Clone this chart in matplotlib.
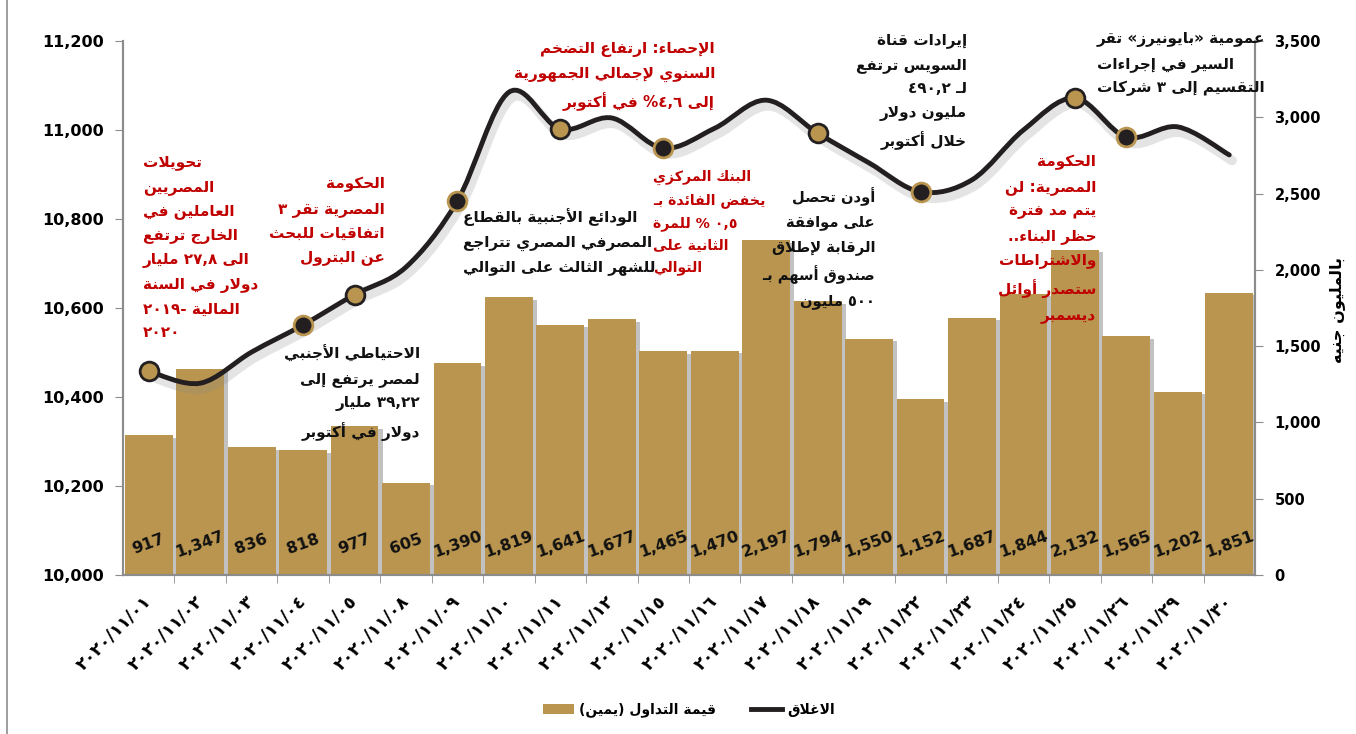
import re
import matplotlib
matplotlib.use("Agg")
import matplotlib.pyplot as plt
import matplotlib.patheffects as pe
from matplotlib.path import Path
from matplotlib.patches import PathPatch, Patch
from matplotlib.lines import Line2D
from matplotlib.ticker import FuncFormatter, MultipleLocator

# ---------------------------------------------------------------------------
# data

dates = ["2020/11/01", "2020/11/02", "2020/11/03", "2020/11/04", "2020/11/05",
         "2020/11/08", "2020/11/09", "2020/11/10", "2020/11/11", "2020/11/12",
         "2020/11/15", "2020/11/16", "2020/11/17", "2020/11/18", "2020/11/19",
         "2020/11/22", "2020/11/23", "2020/11/24", "2020/11/25", "2020/11/26",
         "2020/11/29", "2020/11/30"]

# trading value, million EGP (right axis)
volume = [917, 1347, 836, 818, 977, 605, 1390, 1819, 1641, 1677, 1465,
          1470, 2197, 1794, 1550, 1152, 1687, 1844, 2132, 1565, 1202, 1851]

# index close (left axis)
close = [10458, 10431, 10501, 10562, 10630, 10692, 10841, 11085, 11002, 11027,
         10959, 11004, 11067, 10993, 10926, 10861, 10888, 11000, 11072, 10984,
         11007, 10944]

gold_points = [0, 4, 8, 13, 18]
dark_points = [3, 6, 10, 15, 19]

legend_bar = "قيمة التداول (يمين)"
legend_line = "الاغلاق"
right_label = "بالمليون جنيه"

#//////////////////////////////////////////////////////////////////////////////

# small arabic shaper: presentation forms + right-to-left visual order

arabic_letters = ("\u0621\u0622\u0623\u0624\u0625\u0626\u0627\u0628\u0629\u062A"
                  "\u062B\u062C\u062D\u062E\u062F\u0630\u0631\u0632\u0633\u0634"
                  "\u0635\u0636\u0637\u0638\u0639\u063A\u0641\u0642\u0643\u0644"
                  "\u0645\u0646\u0647\u0648\u0649\u064A")
form_counts = [1, 2, 2, 2, 2, 4, 2, 4, 2, 4, 4, 4, 4, 4, 2, 2, 2, 2, 4, 4,
               4, 4, 4, 4, 4, 4, 4, 4, 4, 4, 4, 4, 4, 2, 2, 4]
FORMS = {}
code = 0xFE80
for ch, n in zip(arabic_letters, form_counts):
    FORMS[ch] = (code, n)
    code += n
LAMALEF = {"\u0622": 0xFEF5, "\u0623": 0xFEF7, "\u0625": 0xFEF9, "\u0627": 0xFEFB}
TATWEEL = "\u0640"
MIRROR = {"(": ")", ")": "(", "«": "»", "»": "«"}


def joins_next(c):
    return c == TATWEEL or (c in FORMS and FORMS[c][1] == 4)


def joins_prev(c):
    return c == TATWEEL or (c in FORMS and FORMS[c][1] > 1)


def shape(s):
    chars = [c for c in s if not ("\u064B" <= c <= "\u0652")]
    out = []
    i = 0
    while i < len(chars):
        c = chars[i]
        prev_j = i > 0 and joins_next(chars[i - 1])
        if c == "\u0644" and i + 1 < len(chars) and chars[i + 1] in LAMALEF:
            out.append(chr(LAMALEF[chars[i + 1]] + (1 if prev_j else 0)))
            i += 2
            continue
        if c in FORMS:
            base, n = FORMS[c]
            nxt = chars[i + 1] if i + 1 < len(chars) else None
            nj = n == 4 and nxt is not None and joins_prev(nxt)
            if n == 1:
                f = base
            elif prev_j and nj:
                f = base + 3
            elif prev_j:
                f = base + 1
            elif nj:
                f = base + 2
            else:
                f = base
            out.append(chr(f))
        else:
            out.append(c)
        i += 1
    return "".join(out)


NUM = re.compile(r"[0-9\u0660-\u0669]+(?:[.,\u066B\u066C][0-9\u0660-\u0669]+)*")


def visual(line):
    s = shape(line)
    parts = []
    pos = 0
    for m in NUM.finditer(s):
        if m.start() > pos:
            parts.append((False, s[pos:m.start()]))
        parts.append((True, m.group()))
        pos = m.end()
    if pos < len(s):
        parts.append((False, s[pos:]))
    res = []
    for is_num, t in reversed(parts):
        if is_num:
            res.append(t)
        else:
            res.append("".join(MIRROR.get(c, c) for c in reversed(t)))
    return "".join(res)


def ar(s):
    return "\n".join(visual(l) for l in s.split("\n"))


def indic(s):
    return s.translate(str.maketrans("0123456789", "٠١٢٣٤٥٦٧٨٩"))

#//////////////////////////////////////////////////////////////////////////////

W, H = 1356, 734
GOLD = "#B9954F"
DARK = "#231F20"
RED = "#C00000"
GRAY = "#8C8C8C"

plt.rcParams["font.family"] = ["DejaVu Sans"]
plt.rcParams["font.weight"] = "bold"

fig = plt.figure(figsize=(W / 100, H / 100), dpi=100)
ax = fig.add_axes([123 / W, 1 - 575 / H, (1255 - 123) / W, (575 - 41) / H])
ax2 = ax.twinx()

x = list(range(len(dates)))

# bars on the right axis
bars = ax2.bar(x, volume, width=0.93, color=GOLD, zorder=2,
               path_effects=[pe.SimplePatchShadow(offset=(3, -2), shadow_rgbFace="#9a9a9a", alpha=0.6),
                             pe.Normal()])
for xi, v in zip(x, volume):
    ax2.text(xi, 200, f"{v:,}", rotation=20, ha="center", va="center",
             fontsize=11.5, fontweight="bold", color="#111111", zorder=3)

ax2.set_ylim(0, 3500)
ax2.yaxis.set_major_locator(MultipleLocator(500))
ax2.yaxis.set_major_formatter(FuncFormatter(lambda v, p: f"{int(v):,}"))

# smooth close line drawn as bezier segments through the data points
pts = list(zip(x, close))
verts = [pts[0]]
codes = [Path.MOVETO]
for i in range(len(pts) - 1):
    p0 = pts[i - 1] if i > 0 else pts[i]
    p1 = pts[i]
    p2 = pts[i + 1]
    p3 = pts[i + 2] if i + 2 < len(pts) else pts[i + 1]
    c1 = (p1[0] + (p2[0] - p0[0]) / 6, p1[1] + (p2[1] - p0[1]) / 6)
    c2 = (p2[0] - (p3[0] - p1[0]) / 6, p2[1] - (p3[1] - p1[1]) / 6)
    verts += [c1, c2, p2]
    codes += [Path.CURVE4] * 3
curve = PathPatch(Path(verts, codes), fill=False, edgecolor=DARK, lw=3.5,
                  capstyle="round", zorder=4,
                  path_effects=[pe.SimpleLineShadow(offset=(2, -4), shadow_color="#888888",
                                                    alpha=0.22, linewidth=7),
                                pe.Normal()])
ax.add_patch(curve)
ax.plot([x[i] for i in gold_points], [close[i] for i in gold_points], "o", ms=13.5,
        mfc=GOLD, mec=DARK, mew=2, zorder=5, ls="none")
ax.plot([x[i] for i in dark_points], [close[i] for i in dark_points], "o", ms=13.5,
        mfc=DARK, mec=GOLD, mew=2, zorder=5, ls="none")

ax.set_ylim(10000, 11200)
ax.yaxis.set_major_locator(MultipleLocator(200))
ax.yaxis.set_major_formatter(FuncFormatter(lambda v, p: f"{int(v):,}"))
ax.set_xlim(-0.5, len(dates) - 0.5)

ax.set_zorder(ax2.get_zorder() + 1)
ax.patch.set_visible(False)

# axes styling
for a in (ax, ax2):
    a.spines["top"].set_visible(False)
    for s in ("left", "right", "bottom"):
        a.spines[s].set_color(GRAY)
        a.spines[s].set_linewidth(1.5)
ax.tick_params(axis="y", direction="out", length=6, color=GRAY, labelsize=11.5, pad=8)
ax2.tick_params(axis="y", direction="out", length=6, color=GRAY, labelsize=10.5, pad=8)
ax.set_xticks(x)
ax.set_xticks([i + 0.5 for i in x[:-1]], minor=True)
ax.tick_params(axis="x", which="major", length=0, pad=17)
ax.tick_params(axis="x", which="minor", direction="out", length=6, color=GRAY)
ax.set_xticklabels([indic(d) for d in dates], rotation=45, ha="right", va="center",
                   rotation_mode="anchor", fontsize=12.5, fontweight="bold")

fig.text(1337 / W, 1 - 310 / H, ar(right_label), rotation=90, ha="center", va="center",
         fontsize=11.5, fontweight="bold")

# annotations ----------------------------------------------------------------


def note(px, py, text, color, ha, size=11.0):
    fig.text(px / W, 1 - py / H, ar(text), color=color, ha=ha, va="top",
             multialignment=ha, fontsize=size, fontweight="bold", linespacing=1.72,
             zorder=10)


note(143, 155, "تحويلات\nالمصريين\nالعاملين في\nالخارج ترتفع\nالى ٢٧,٨ مليار\nدولار في السنة\nالمالية -٢٠١٩\n٢٠٢٠", RED, "left")
note(385, 177, "الحكومة\nالمصرية تُقر ٣\nاتفاقيات للبحث\nعن البترول", RED, "right")
note(420, 345, "الاحتياطي الأجنبي\nلمصر يرتفع إلى\n٣٩,٢٢ مليار\nدولار في أكتوبر", "#111111", "right")
note(463, 208, "الودائع الأجنبية بالقطاع\nالمصرفي المصري تتراجع\nللشهر الثالث على التوالي", "#111111", "left")
note(715, 42, "الإحصاء: ارتفاع التضخم\nالسنوي لإجمالي الجمهورية\nإلى ٤,٦% في أكتوبر", RED, "right")
note(653, 170, "البنك المركزي\nيخفض الفائدة بـ\n٠,٥ % للمرة\nالثانية على\nالتوالي", RED, "left", 10.2)
note(875, 187, "أودن تحصل\nعلى موافقة\nالرقابة لإطلاق\nصندوق أسهم بـ\n٥٠٠ مليون", "#111111", "right", 10.6)
note(967, 33, "إيرادات قناة\nالسويس ترتفع\nلـ ٤٩٠,٢\nمليون دولار\nخلال أكتوبر", "#111111", "right")
note(1096, 155, "الحكومة\nالمصرية: لن\nيتم مد فترة\nحظر البناء..\nوالاشتراطات\nستصدر أوائل\nديسمبر", RED, "right")
note(1097, 32, "عمومية «بايونيرز» تُقر\nالسير في إجراءات\nالتقسيم إلى ٣ شركات", "#111111", "left")

# legend
handles = [Patch(facecolor=GOLD, edgecolor="none"), Line2D([], [], color=DARK, lw=3.5)]
fig.legend(handles, [ar(legend_bar), ar(legend_line)], loc="center",
           bbox_to_anchor=(689 / W, 1 - 710 / H), ncol=2, frameon=False,
           handlelength=2.2, handletextpad=0.4, columnspacing=2.5,
           prop={"size": 10, "weight": "bold"})

# outer frame line on the left
fig.add_artist(Line2D([7 / W, 7 / W], [0, 1], color=GRAY, lw=1.2))

fig.savefig("out.png", dpi=100)
